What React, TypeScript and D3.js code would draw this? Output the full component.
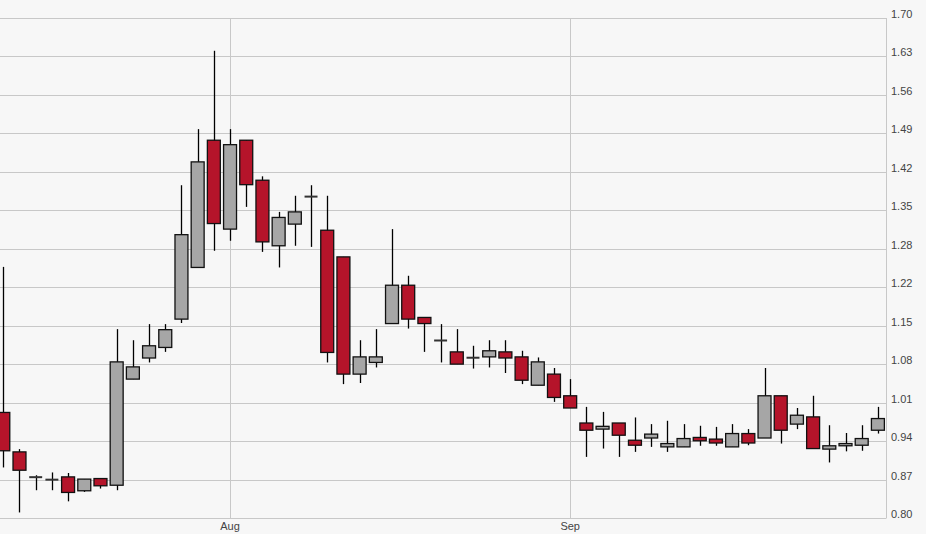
import React from "react";
import * as d3 from "d3";

const dates: string[] = [
  "2014-07-14","2014-07-15","2014-07-16","2014-07-17","2014-07-18",
  "2014-07-21","2014-07-22","2014-07-23","2014-07-24","2014-07-25",
  "2014-07-28","2014-07-29","2014-07-30","2014-07-31",
  "2014-08-01","2014-08-04","2014-08-05","2014-08-06","2014-08-07","2014-08-08",
  "2014-08-11","2014-08-12","2014-08-13","2014-08-14","2014-08-15",
  "2014-08-18","2014-08-19","2014-08-20","2014-08-21","2014-08-22",
  "2014-08-25","2014-08-26","2014-08-27","2014-08-28","2014-08-29",
  "2014-09-01","2014-09-02","2014-09-03","2014-09-04","2014-09-05",
  "2014-09-08","2014-09-09","2014-09-10","2014-09-11","2014-09-12",
  "2014-09-15","2014-09-16","2014-09-17","2014-09-18","2014-09-19",
  "2014-09-22","2014-09-23","2014-09-24","2014-09-25","2014-09-26",
];

const opens: number[] = [
  0.990, 0.919, 0.874, 0.869, 0.874, 0.849, 0.871, 0.859, 1.050, 1.088,
  1.107, 1.158, 1.251, 1.480, 1.320, 1.480, 1.408, 1.290, 1.329, 1.379,
  1.318, 1.270, 1.059, 1.080, 1.150, 1.219, 1.161, 1.120, 1.099, 1.089,
  1.090, 1.099, 1.090, 1.039, 1.059, 1.020, 0.971, 0.960, 0.971, 0.940,
  0.944, 0.928, 0.928, 0.945, 0.942, 0.928, 0.952, 0.944, 1.020, 0.969,
  0.982, 0.924, 0.930, 0.931, 0.958,
];
const highs: number[] = [
  1.252, 0.924, 0.877, 0.882, 0.881, 0.870, 0.871, 1.140, 1.120, 1.149,
  1.149, 1.399, 1.500, 1.641, 1.500, 1.480, 1.415, 1.351, 1.380, 1.399,
  1.380, 1.270, 1.120, 1.140, 1.320, 1.236, 1.161, 1.149, 1.140, 1.110,
  1.120, 1.120, 1.101, 1.089, 1.070, 1.050, 1.000, 0.991, 0.971, 0.981,
  0.969, 0.975, 0.969, 0.966, 0.964, 0.969, 0.960, 1.070, 1.020, 0.998,
  1.020, 0.967, 0.953, 0.967, 1.000,
];
const lows: number[] = [
  0.891, 0.810, 0.850, 0.850, 0.830, 0.847, 0.853, 0.850, 1.050, 1.080,
  1.099, 1.151, 1.251, 1.281, 1.299, 1.360, 1.279, 1.251, 1.290, 1.288,
  1.080, 1.041, 1.043, 1.071, 1.150, 1.141, 1.099, 1.080, 1.077, 1.069,
  1.071, 1.061, 1.041, 1.039, 1.009, 0.998, 0.910, 0.925, 0.910, 0.919,
  0.928, 0.919, 0.928, 0.930, 0.930, 0.928, 0.931, 0.944, 0.934, 0.960,
  0.925, 0.900, 0.920, 0.921, 0.952,
];
const closes: number[] = [
  0.921, 0.886, 0.873, 0.869, 0.846, 0.870, 0.858, 1.081, 1.072, 1.110,
  1.139, 1.310, 1.441, 1.330, 1.472, 1.400, 1.297, 1.341, 1.351, 1.378,
  1.098, 1.059, 1.090, 1.090, 1.219, 1.158, 1.150, 1.119, 1.077, 1.088,
  1.101, 1.088, 1.048, 1.081, 1.017, 0.998, 0.958, 0.965, 0.949, 0.931,
  0.951, 0.934, 0.943, 0.939, 0.935, 0.952, 0.935, 1.020, 0.958, 0.985,
  0.925, 0.930, 0.934, 0.943, 0.979,
];

const yTickLabels: string[] = [
  "0.80","0.87","0.94","1.01","1.08","1.15","1.22",
  "1.28","1.35","1.42","1.49","1.56","1.63","1.70",
];
const monthLabels: string[] = ["Aug", "Sep"];
const monthDates: string[] = ["2014-08-01", "2014-09-01"];

const W = 926;
const H = 534;
const plotTop = 18;
const plotBottom = 518;
const plotRight = 886;
const yMin = 0.8;
const yMax = 1.7;

export default function App() {
  const x = d3
    .scaleBand<string>()
    .domain(dates)
    .range([-4.8, plotRight])
    .paddingInner(0.2)
    .paddingOuter(0.1);
  const y = d3.scaleLinear().domain([yMin, yMax]).range([plotBottom, plotTop]);
  const tickStep = (yMax - yMin) / (yTickLabels.length - 1);
  const ticks = yTickLabels.map((label, i) => ({ label, v: yMin + i * tickStep }));
  const bw = x.bandwidth();
  const cx = (d: string) => (x(d) as number) + bw / 2;

  const font = "'Liberation Sans', Arial, sans-serif";

  return (
    <svg
      width={W}
      height={H}
      style={{ position: "absolute", left: 0, top: 0, background: "#f7f7f7" }}
    >
      <defs>
        <clipPath id="plotclip">
          <rect x={0} y={0} width={plotRight} height={H} />
        </clipPath>
      </defs>
      <rect x={0} y={0} width={W} height={H} fill="#f7f7f7" />
      {ticks.map((t) => (
        <line
          key={"g" + t.label}
          x1={0}
          x2={plotRight}
          y1={Math.round(y(t.v)) + 0.5}
          y2={Math.round(y(t.v)) + 0.5}
          stroke="#c8c8c8"
          strokeWidth={1}
        />
      ))}
      {monthDates.map((d) => (
        <line
          key={"v" + d}
          x1={Math.round(cx(d)) + 0.5}
          x2={Math.round(cx(d)) + 0.5}
          y1={plotTop}
          y2={plotBottom}
          stroke="#c8c8c8"
          strokeWidth={1}
        />
      ))}
      <line
        x1={plotRight + 0.5}
        x2={plotRight + 0.5}
        y1={plotTop}
        y2={plotBottom + 0.5}
        stroke="#c8c8c8"
      />
      <g clipPath="url(#plotclip)">
        {dates.map((d, i) => {
          const o = opens[i];
          const c = closes[i];
          const up = c >= o;
          const c0 = cx(d);
          const xc = Math.round(c0) + 0.5;
          const top = y(Math.max(o, c));
          const bot = y(Math.min(o, c));
          const isDoji = Math.abs(bot - top) < 1.5;
          return (
            <g key={d}>
              <line
                x1={xc}
                x2={xc}
                y1={y(highs[i])}
                y2={y(lows[i])}
                stroke="#000"
                strokeWidth={1.3}
              />
              {isDoji ? (
                <line
                  x1={c0 - bw / 2}
                  x2={c0 + bw / 2}
                  y1={(top + bot) / 2}
                  y2={(top + bot) / 2}
                  stroke="#333"
                  strokeWidth={2}
                />
              ) : (
                <rect
                  x={c0 - bw / 2}
                  y={top}
                  width={bw}
                  height={bot - top}
                  fill={up ? "#a6a6a6" : "#b5142a"}
                  stroke="#111"
                  strokeWidth={1.3}
                />
              )}
            </g>
          );
        })}
      </g>
      {ticks.map((t) => (
        <text
          key={"t" + t.label}
          x={891}
          y={y(t.v)}
          fontFamily={font}
          fontSize={11}
          fill="#444"
        >
          {t.label}
        </text>
      ))}
      {monthDates.map((d, i) => (
        <text
          key={"m" + d}
          x={cx(d)}
          y={530}
          textAnchor="middle"
          fontFamily={font}
          fontSize={11}
          fill="#444"
        >
          {monthLabels[i]}
        </text>
      ))}
    </svg>
  );
}
